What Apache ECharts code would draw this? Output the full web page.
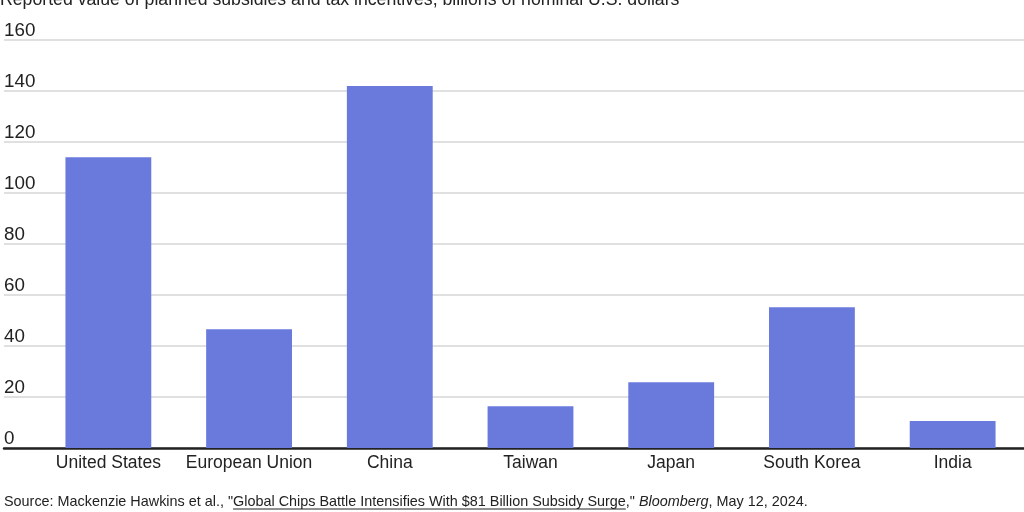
<!DOCTYPE html>
<html>
<head>
<meta charset="utf-8">
<script src="https://cdn.jsdelivr.net/npm/echarts@6/dist/echarts.min.js"></script>
<style>
html,body{margin:0;padding:0;background:#fff;}
#chart{width:1024px;height:512px;}
</style>
</head>
<body>
<div id="chart"></div>
<script>
const categories = ['United States', 'European Union', 'China', 'Taiwan', 'Japan', 'South Korea', 'India'];
const subsidies = [114, 46.6, 142, 16.4, 25.8, 55.2, 10.6];
const yTicks = [0, 20, 40, 60, 80, 100, 120, 140, 160];
const titleText = 'Reported value of planned subsidies and tax incentives, billions of nominal U.S. dollars';
const sourcePre = 'Source: Mackenzie Hawkins et al., "';
const sourceLink = 'Global Chips Battle Intensifies With $81 Billion Subsidy Surge';
const sourceMid = ',"';
const sourcePub = 'Bloomberg';
const sourcePost = ', May 12, 2024.';

const FONT = '"Liberation Sans", Arial, sans-serif';
const chart = echarts.init(document.getElementById('chart'));

function measure(txt, font) {
  const c = document.createElement('canvas').getContext('2d');
  c.font = font;
  return c.measureText(txt).width;
}
const srcSize = 14.4;
const srcX = 4, srcY = 502;
const preW = measure(sourcePre, srcSize + 'px ' + FONT);
const linkW = measure(sourceLink, srcSize + 'px ' + FONT);

chart.setOption({
  animation: false,
  backgroundColor: '#ffffff',
  textStyle: { fontFamily: FONT },
  title: [{
    text: titleText,
    left: 0,
    top: -9,
    padding: 0,
    textStyle: { fontSize: 17.7, fontWeight: 'normal', color: '#222', fontFamily: FONT }
  }],
  grid: [
    { left: 4, right: 0, top: 40, bottom: 64 },
    { left: 38, right: 1, top: 40, bottom: 64 }
  ],
  xAxis: [
    {
      gridIndex: 0, type: 'value', min: 0, max: 1,
      axisLine: { show: true, onZero: true, lineStyle: { color: '#222', width: 2.5 } },
      axisTick: { show: false }, axisLabel: { show: false }, splitLine: { show: false }
    },
    {
      gridIndex: 1, type: 'category', data: categories,
      axisLine: { show: false }, axisTick: { show: false },
      axisLabel: { color: '#222', fontSize: 17.5, margin: 6, fontFamily: FONT, interval: 0 }
    }
  ],
  yAxis: [
    {
      gridIndex: 0, type: 'value', min: 0, max: 160, interval: 20,
      axisLine: { show: false }, axisTick: { show: false },
      splitLine: { show: true, lineStyle: { color: '#d6d6d6', width: 1.5 } },
      axisLabel: {
        inside: true, margin: 0, color: '#222', fontSize: 18.8, fontFamily: FONT,
        verticalAlign: 'bottom', padding: [0, 0, 0, 0],
        formatter: function (v) { return yTicks.indexOf(v) >= 0 ? String(v) : ''; }
      }
    },
    {
      gridIndex: 1, type: 'value', min: 0, max: 160, interval: 20,
      show: false
    }
  ],
  series: [{
    type: 'bar',
    xAxisIndex: 1, yAxisIndex: 1,
    data: subsidies,
    barCategoryGap: '39%',
    itemStyle: { color: '#6a7adc' },
    z: 1
  }],
  graphic: [
    {
      type: 'text', x: srcX, y: srcY,
      style: {
        text: '{a|' + sourcePre + '}{l|' + sourceLink + '}{a|' + sourceMid + ' }{i|' + sourcePub + '}{a|' + sourcePost + '}',
        verticalAlign: 'middle',
        rich: {
          a: { fontSize: srcSize, fontFamily: FONT, fill: '#222' },
          l: { fontSize: srcSize, fontFamily: FONT, fill: '#222' },
          i: { fontSize: srcSize, fontFamily: FONT, fill: '#222', fontStyle: 'italic' }
        }
      }
    },
    {
      type: 'line',
      shape: { x1: srcX + preW, y1: srcY + 7, x2: srcX + preW + linkW, y2: srcY + 7 },
      style: { stroke: '#222', lineWidth: 1 }
    }
  ]
});
</script>
</body>
</html>
